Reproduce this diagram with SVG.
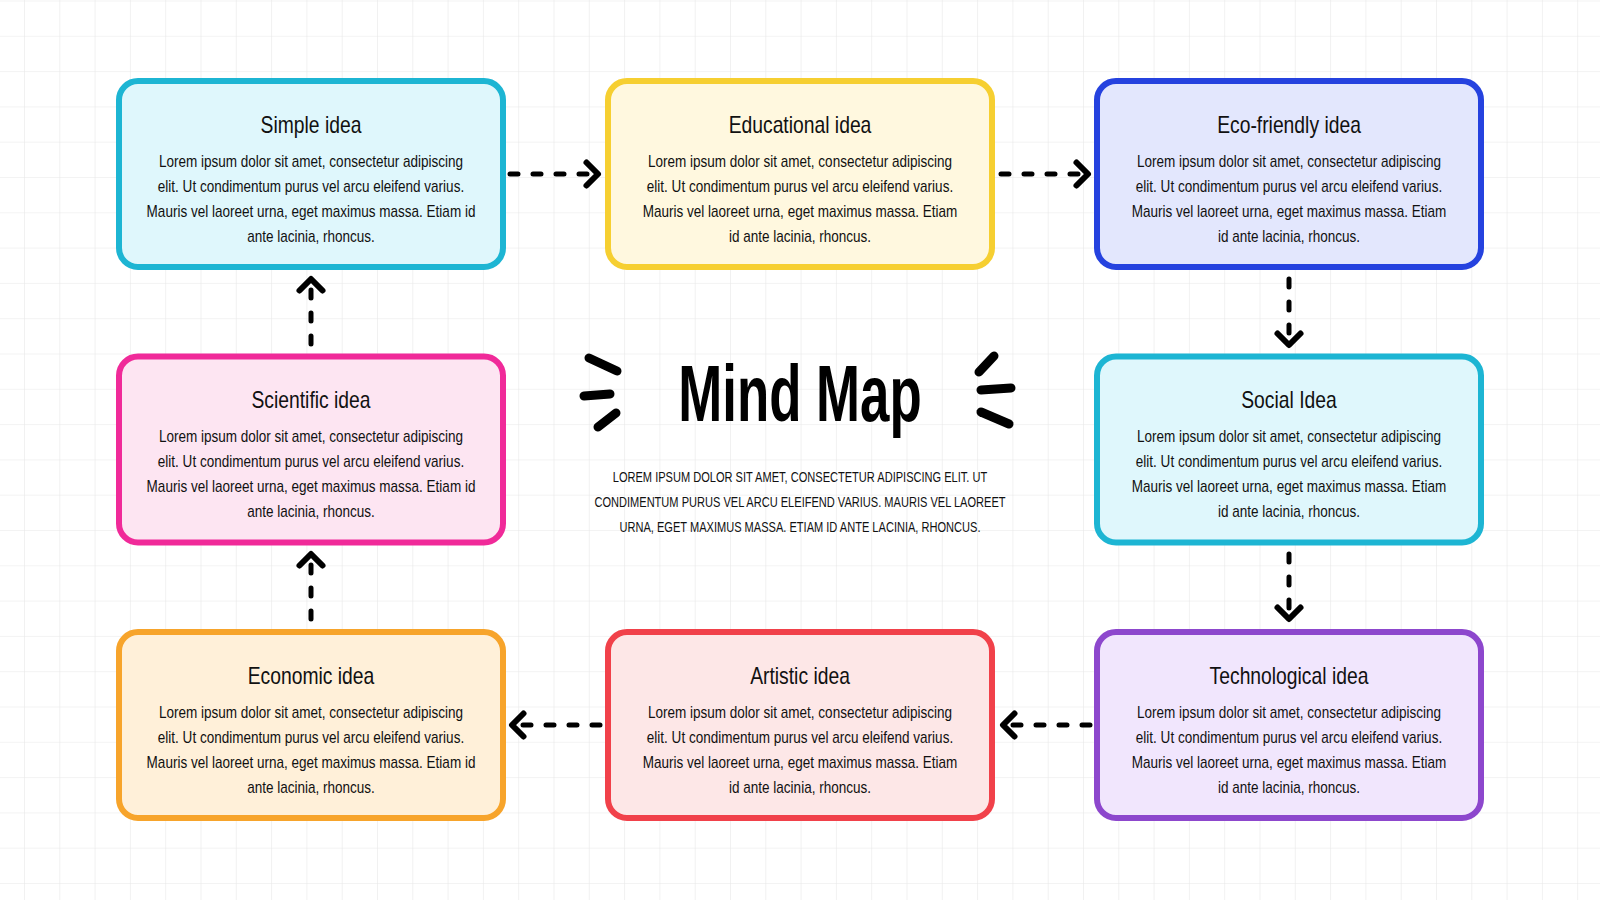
<svg xmlns="http://www.w3.org/2000/svg" width="1600" height="900" viewBox="0 0 1600 900">
<defs>
<pattern id="grid" patternUnits="userSpaceOnUse" x="24" y="0.5" width="35.3" height="35.3">
<path d="M0,0 V35.3 M0,0 H35.3" fill="none" stroke="#e8e8e8" stroke-width="1.2"/>
</pattern>
<marker id="chev" markerUnits="userSpaceOnUse" viewBox="-16 -16 20 32" refX="0" refY="0" markerWidth="20" markerHeight="32" orient="auto" overflow="visible">
<path d="M-11.5,-11.5 L0,0 L-11.5,11.5" fill="none" stroke="#000" stroke-width="6" stroke-linecap="round" stroke-linejoin="round"/>
</marker>
<style>
.box{stroke-width:6}
.cyan .box{stroke:#1db5d3;fill:#dff7fc}
.yellow .box{stroke:#f6cf31;fill:#fff8df}
.blue .box{stroke:#2542df;fill:#e3e7fd}
.pink .box{stroke:#f02a99;fill:#fde5f2}
.orange .box{stroke:#f7a42b;fill:#fff0d9}
.red .box{stroke:#f1414a;fill:#fde7e7}
.purple .box{stroke:#8d47cd;fill:#f1e6fd}
.title{font-family:"Liberation Sans",Arial,sans-serif;font-size:23px;text-anchor:middle;fill:#111}
.body{font-family:"Liberation Sans",Arial,sans-serif;font-size:16px;text-anchor:middle;fill:#111}
.main{font-family:"Liberation Sans",Arial,sans-serif;font-size:80px;font-weight:bold;text-anchor:middle;fill:#000}
.sub{font-family:"Liberation Sans",Arial,sans-serif;font-size:14px;text-anchor:middle;fill:#111}
.conn{fill:none;stroke:#000;stroke-width:5;stroke-dasharray:8 15;stroke-linecap:round;marker-end:url(#chev)}
.tick{fill:none;stroke:#000;stroke-width:9;stroke-linecap:round}
</style>
</defs>
<rect width="1600" height="900" fill="#ffffff"/>
<rect width="1600" height="900" fill="url(#grid)"/>

<g id="connectors">
<path class="conn" d="M510,174 L598,174"/>
<path class="conn" d="M1001,174 L1088,174"/>
<path class="conn" d="M1289,279 L1289,345"/>
<path class="conn" d="M1289,554 L1289,619"/>
<path class="conn" d="M1090,725 L1003,725"/>
<path class="conn" d="M600,725 L512,725"/>
<path class="conn" d="M311,619 L311,554"/>
<path class="conn" d="M311,344 L311,279"/>
</g>

<g id="node-simple" class="cyan">
<rect class="box" x="119" y="81" width="384" height="186" rx="19"/>
<g transform="translate(311,0) scale(0.84,1)"><text class="title" x="0" y="133">Simple idea</text></g>
<g transform="translate(311,0) scale(0.845,1)"><text class="body"><tspan x="0" y="167">Lorem ipsum dolor sit amet, consectetur adipiscing</tspan><tspan x="0" y="192">elit. Ut condimentum purus vel arcu eleifend varius.</tspan><tspan x="0" y="217">Mauris vel laoreet urna, eget maximus massa. Etiam id</tspan><tspan x="0" y="242">ante lacinia, rhoncus.</tspan></text></g>
</g>

<g id="node-educational" class="yellow">
<rect class="box" x="608" y="81" width="384" height="186" rx="19"/>
<g transform="translate(800,0) scale(0.84,1)"><text class="title" x="0" y="133">Educational idea</text></g>
<g transform="translate(800,0) scale(0.845,1)"><text class="body"><tspan x="0" y="167">Lorem ipsum dolor sit amet, consectetur adipiscing</tspan><tspan x="0" y="192">elit. Ut condimentum purus vel arcu eleifend varius.</tspan><tspan x="0" y="217">Mauris vel laoreet urna, eget maximus massa. Etiam</tspan><tspan x="0" y="242">id ante lacinia, rhoncus.</tspan></text></g>
</g>

<g id="node-eco" class="blue">
<rect class="box" x="1097" y="81" width="384" height="186" rx="19"/>
<g transform="translate(1289,0) scale(0.84,1)"><text class="title" x="0" y="133">Eco-friendly idea</text></g>
<g transform="translate(1289,0) scale(0.845,1)"><text class="body"><tspan x="0" y="167">Lorem ipsum dolor sit amet, consectetur adipiscing</tspan><tspan x="0" y="192">elit. Ut condimentum purus vel arcu eleifend varius.</tspan><tspan x="0" y="217">Mauris vel laoreet urna, eget maximus massa. Etiam</tspan><tspan x="0" y="242">id ante lacinia, rhoncus.</tspan></text></g>
</g>

<g id="node-scientific" class="pink">
<rect class="box" x="119" y="356.5" width="384" height="186" rx="19"/>
<g transform="translate(311,0) scale(0.84,1)"><text class="title" x="0" y="408.5">Scientific idea</text></g>
<g transform="translate(311,0) scale(0.845,1)"><text class="body"><tspan x="0" y="442.5">Lorem ipsum dolor sit amet, consectetur adipiscing</tspan><tspan x="0" y="467.5">elit. Ut condimentum purus vel arcu eleifend varius.</tspan><tspan x="0" y="492.5">Mauris vel laoreet urna, eget maximus massa. Etiam id</tspan><tspan x="0" y="517.5">ante lacinia, rhoncus.</tspan></text></g>
</g>

<g id="node-social" class="cyan">
<rect class="box" x="1097" y="356.5" width="384" height="186" rx="19"/>
<g transform="translate(1289,0) scale(0.84,1)"><text class="title" x="0" y="408.5">Social Idea</text></g>
<g transform="translate(1289,0) scale(0.845,1)"><text class="body"><tspan x="0" y="442.5">Lorem ipsum dolor sit amet, consectetur adipiscing</tspan><tspan x="0" y="467.5">elit. Ut condimentum purus vel arcu eleifend varius.</tspan><tspan x="0" y="492.5">Mauris vel laoreet urna, eget maximus massa. Etiam</tspan><tspan x="0" y="517.5">id ante lacinia, rhoncus.</tspan></text></g>
</g>

<g id="node-economic" class="orange">
<rect class="box" x="119" y="632" width="384" height="186" rx="19"/>
<g transform="translate(311,0) scale(0.84,1)"><text class="title" x="0" y="684">Economic idea</text></g>
<g transform="translate(311,0) scale(0.845,1)"><text class="body"><tspan x="0" y="718">Lorem ipsum dolor sit amet, consectetur adipiscing</tspan><tspan x="0" y="743">elit. Ut condimentum purus vel arcu eleifend varius.</tspan><tspan x="0" y="768">Mauris vel laoreet urna, eget maximus massa. Etiam id</tspan><tspan x="0" y="793">ante lacinia, rhoncus.</tspan></text></g>
</g>

<g id="node-artistic" class="red">
<rect class="box" x="608" y="632" width="384" height="186" rx="19"/>
<g transform="translate(800,0) scale(0.84,1)"><text class="title" x="0" y="684">Artistic idea</text></g>
<g transform="translate(800,0) scale(0.845,1)"><text class="body"><tspan x="0" y="718">Lorem ipsum dolor sit amet, consectetur adipiscing</tspan><tspan x="0" y="743">elit. Ut condimentum purus vel arcu eleifend varius.</tspan><tspan x="0" y="768">Mauris vel laoreet urna, eget maximus massa. Etiam</tspan><tspan x="0" y="793">id ante lacinia, rhoncus.</tspan></text></g>
</g>

<g id="node-technological" class="purple">
<rect class="box" x="1097" y="632" width="384" height="186" rx="19"/>
<g transform="translate(1289,0) scale(0.84,1)"><text class="title" x="0" y="684">Technological idea</text></g>
<g transform="translate(1289,0) scale(0.845,1)"><text class="body"><tspan x="0" y="718">Lorem ipsum dolor sit amet, consectetur adipiscing</tspan><tspan x="0" y="743">elit. Ut condimentum purus vel arcu eleifend varius.</tspan><tspan x="0" y="768">Mauris vel laoreet urna, eget maximus massa. Etiam</tspan><tspan x="0" y="793">id ante lacinia, rhoncus.</tspan></text></g>
</g>

<g id="center">
<g transform="translate(800,0) scale(0.66,1)"><text class="main" x="0" y="421">Mind Map</text></g>
<g transform="translate(800,0) scale(0.79,1)"><text class="sub"><tspan x="0" y="482">LOREM IPSUM DOLOR SIT AMET, CONSECTETUR ADIPISCING ELIT. UT</tspan><tspan x="0" y="507">CONDIMENTUM PURUS VEL ARCU ELEIFEND VARIUS. MAURIS VEL LAOREET</tspan><tspan x="0" y="532">URNA, EGET MAXIMUS MASSA. ETIAM ID ANTE LACINIA, RHONCUS.</tspan></text></g>
<path class="tick" d="M589,358 L617,371"/>
<path class="tick" d="M584,396 L610,394"/>
<path class="tick" d="M598,427 L616,413"/>
<path class="tick" d="M994,356 L979,372"/>
<path class="tick" d="M981,390 L1011,388"/>
<path class="tick" d="M981,412 L1009,424"/>
</g>
</svg>
